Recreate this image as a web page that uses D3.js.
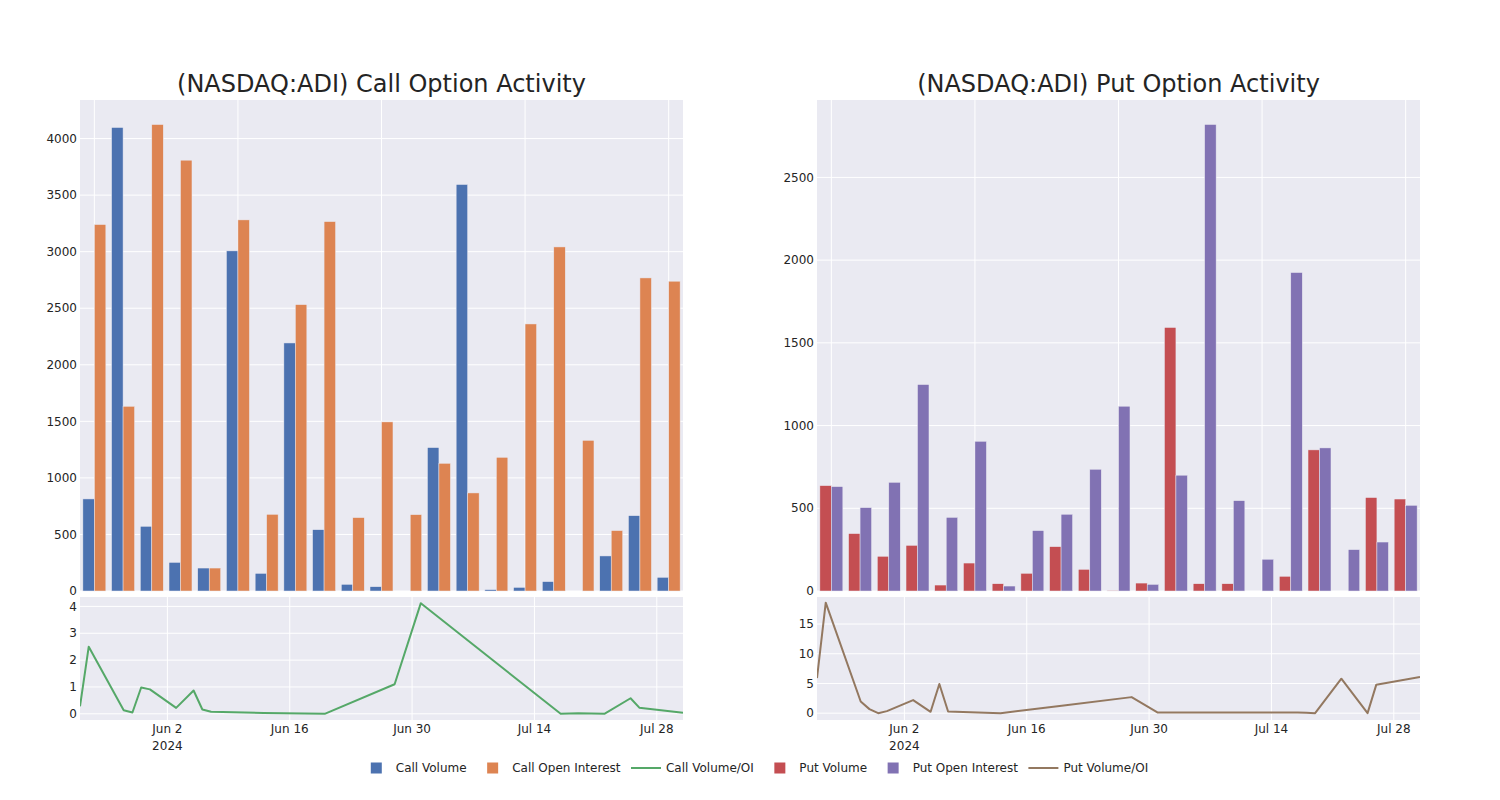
<!DOCTYPE html>
<html>
<head>
<meta charset="utf-8">
<script src="https://cdn.jsdelivr.net/npm/d3@7"></script>
<style>
  html, body { margin: 0; padding: 0; background: #fff; }
  svg { display: block; font-family: "DejaVu Sans", sans-serif; }
</style>
</head>
<body>
<svg id="chart" width="1500" height="800"></svg>
<script>
// ---------------- DATA ----------------
const dates = ["2024-05-23","2024-05-24","2024-05-28","2024-05-29","2024-05-30","2024-05-31",
  "2024-06-03","2024-06-05","2024-06-06","2024-06-07","2024-06-13","2024-06-20","2024-06-28",
  "2024-07-01","2024-07-17","2024-07-18","2024-07-19","2024-07-22","2024-07-25","2024-07-26","2024-07-31"];

const callVolume = [814, 4098, 572, 253, 203, 3007, 156, 2193, 542, 59, 38, 0, 1268, 3594, 12, 32, 83, 0, 310, 666, 121];
const callOpenInterest = [3240, 1633, 4124, 3809, 203, 3281, 678, 2532, 3266, 649, 1495, 675, 1129, 867, 1182, 2361, 3042, 1332, 534, 2768, 2739];
const callVolOI = [0.28, 2.5, 0.13, 0.05, 0.98, 0.91, 0.22, 0.87, 0.16, 0.08, 0.03, 0.0, 1.1, 4.12, 0.0, 0.01, 0.02, 0.0, 0.58, 0.23, 0.04];

const putVolume = [637, 347, 210, 276, 36, 169, 44, 107, 268, 131, 3, 48, 1593, 44, 44, 0, 89, 853, 0, 565, 556];
const putOpenInterest = [631, 504, 657, 1248, 445, 905, 30, 365, 464, 736, 1117, 40, 700, 2820, 546, 192, 1925, 865, 250, 296, 518];
const putVolOI = [5.9, 18.6, 1.97, 0.68, 0.0, 0.34, 2.2, 0.23, 4.9, 0.28, 0.0, 1.25, 2.7, 0.11, 0.1, 0.06, 0.0, 5.8, 0.0, 4.8, 6.1];

const callBarTicks = [0, 500, 1000, 1500, 2000, 2500, 3000, 3500, 4000];
const putBarTicks = [0, 500, 1000, 1500, 2000, 2500];
const callLineTicks = [0, 1, 2, 3, 4];
const putLineTicks = [0, 5, 10, 15];
const dateTicks = ["2024-06-02", "2024-06-16", "2024-06-30", "2024-07-14", "2024-07-28"];
const dateTickLabels = ["Jun 2", "Jun 16", "Jun 30", "Jul 14", "Jul 28"];
const categoryGridIdx = [0, 5, 10, 15, 20];

const titles = ["(NASDAQ:ADI) Call Option Activity", "(NASDAQ:ADI) Put Option Activity"];
const legendItems = [
  {name: "Call Volume", type: "bar", color: "rgb(76,114,176)"},
  {name: "Call Open Interest", type: "bar", color: "rgb(221,132,82)"},
  {name: "Call Volume/OI", type: "line", color: "rgb(85,168,104)"},
  {name: "Put Volume", type: "bar", color: "rgb(196,78,82)"},
  {name: "Put Open Interest", type: "bar", color: "rgb(129,114,179)"},
  {name: "Put Volume/OI", type: "line", color: "rgb(147,120,96)"}
];

// ---------------- LAYOUT ----------------
const BG = "rgb(234,234,242)";
const TXT = "rgb(36,36,36)";
const parse = d3.utcParse("%Y-%m-%d");
const svg = d3.select("#chart");

const panels = [
  {x0: 80, x1: 683, title: titles[0], vol: callVolume, oi: callOpenInterest, ratio: callVolOI,
   volColor: legendItems[0].color, oiColor: legendItems[1].color, lineColor: legendItems[2].color,
   barMax: 4341, barTicks: callBarTicks, lineDomain: [-0.23, 4.35], lineTicks: callLineTicks},
  {x0: 817, x1: 1420, title: titles[1], vol: putVolume, oi: putOpenInterest, ratio: putVolOI,
   volColor: legendItems[3].color, oiColor: legendItems[4].color, lineColor: legendItems[5].color,
   barMax: 2968, barTicks: putBarTicks, lineDomain: [-1.15, 19.55], lineTicks: putLineTicks}
];

const topY0 = 100, topY1 = 591, botY0 = 597, botY1 = 720;

panels.forEach(p => {
  const g = svg.append("g");
  g.append("text").attr("x", (p.x0 + p.x1) / 2).attr("y", 92)
    .attr("text-anchor", "middle").attr("font-size", 24).attr("fill", TXT).text(p.title);

  // ---- top bar panel ----
  g.append("rect").attr("x", p.x0).attr("y", topY0).attr("width", p.x1 - p.x0)
    .attr("height", topY1 - topY0).attr("fill", BG);
  const xb = d3.scaleBand().domain(d3.range(dates.length)).range([p.x0, p.x1])
    .paddingInner(0.2).paddingOuter(0.1);
  const xs = d3.scaleBand().domain(["vol", "oi"]).range([0, xb.bandwidth()]);
  const yb = d3.scaleLinear().domain([0, p.barMax]).range([topY1, topY0]);

  g.append("g").selectAll("line").data(p.barTicks).join("line")
    .attr("x1", p.x0).attr("x2", p.x1).attr("y1", d => yb(d)).attr("y2", d => yb(d))
    .attr("stroke", "#fff").attr("stroke-width", 1);
  g.append("g").selectAll("line").data(categoryGridIdx).join("line")
    .attr("x1", d => xb(d) + xb.bandwidth() / 2).attr("x2", d => xb(d) + xb.bandwidth() / 2)
    .attr("y1", topY0).attr("y2", topY1).attr("stroke", "#fff").attr("stroke-width", 1);

  const series = [{key: "vol", vals: p.vol, color: p.volColor}, {key: "oi", vals: p.oi, color: p.oiColor}];
  series.forEach(s => {
    g.append("g").selectAll("rect").data(s.vals).join("rect")
      .attr("x", (d, i) => xb(i) + xs(s.key))
      .attr("y", d => yb(d))
      .attr("width", xs.bandwidth())
      .attr("height", d => yb(0) - yb(d))
      .attr("fill", s.color)
      .attr("stroke", BG).attr("stroke-width", 0.5);
  });

  g.append("g").selectAll("text").data(p.barTicks).join("text")
    .attr("x", p.x0 - 3).attr("y", d => yb(d)).attr("dy", "0.35em")
    .attr("text-anchor", "end").attr("font-size", 12).attr("fill", TXT).text(d => d);

  // ---- bottom line panel ----
  g.append("rect").attr("x", p.x0).attr("y", botY0).attr("width", p.x1 - p.x0)
    .attr("height", botY1 - botY0).attr("fill", BG);
  const xt = d3.scaleUtc().domain([parse(dates[0]), parse(dates[dates.length - 1])]).range([p.x0, p.x1]);
  const yl = d3.scaleLinear().domain(p.lineDomain).range([botY1, botY0]);

  g.append("g").selectAll("line").data(p.lineTicks).join("line")
    .attr("x1", p.x0).attr("x2", p.x1).attr("y1", d => yl(d)).attr("y2", d => yl(d))
    .attr("stroke", "#fff").attr("stroke-width", 1);
  g.append("g").selectAll("line").data(dateTicks).join("line")
    .attr("x1", d => xt(parse(d))).attr("x2", d => xt(parse(d)))
    .attr("y1", botY0).attr("y2", botY1).attr("stroke", "#fff").attr("stroke-width", 1);

  const clipId = "clip" + p.x0;
  svg.append("clipPath").attr("id", clipId).append("rect")
    .attr("x", p.x0).attr("y", botY0).attr("width", p.x1 - p.x0).attr("height", botY1 - botY0);

  const line = d3.line().x((d, i) => xt(parse(dates[i]))).y(d => yl(d));
  g.append("path").datum(p.ratio).attr("d", line).attr("fill", "none")
    .attr("stroke", p.lineColor).attr("stroke-width", 2).attr("stroke-linejoin", "round")
    .attr("clip-path", `url(#${clipId})`);

  g.append("g").selectAll("text").data(p.lineTicks).join("text")
    .attr("x", p.x0 - 3).attr("y", d => yl(d)).attr("dy", "0.35em")
    .attr("text-anchor", "end").attr("font-size", 12).attr("fill", TXT).text(d => d);

  g.append("g").selectAll("text").data(dateTicks).join("text")
    .attr("x", d => xt(parse(d))).attr("y", 733)
    .attr("text-anchor", "middle").attr("font-size", 12).attr("fill", TXT)
    .text((d, i) => dateTickLabels[i]);
  g.append("text").attr("x", xt(parse(dateTicks[0]))).attr("y", 750)
    .attr("text-anchor", "middle").attr("font-size", 12).attr("fill", TXT)
    .text(dateTicks[0].slice(0, 4));
});

// ---------------- LEGEND ----------------
const lg = svg.append("g");
const itemGs = legendItems.map(it => {
  const ig = lg.append("g");
  if (it.type === "bar") {
    ig.append("rect").attr("x", 15).attr("y", -5.5).attr("width", 11).attr("height", 11)
      .attr("fill", it.color);
  } else {
    ig.append("line").attr("x1", 5).attr("x2", 35).attr("y1", 0).attr("y2", 0)
      .attr("stroke", it.color).attr("stroke-width", 2);
  }
  const t = ig.append("text").attr("x", 40).attr("y", 0).attr("dy", "0.35em")
    .attr("font-size", 12).attr("fill", TXT).text(it.name);
  return {g: ig, w: 40 + t.node().getComputedTextLength() + 5.5};
});
const total = d3.sum(itemGs, d => d.w) - 5.5;
let cx = 752 - total / 2;
itemGs.forEach(d => { d.g.attr("transform", `translate(${cx},768)`); cx += d.w; });
</script>
</body>
</html>
